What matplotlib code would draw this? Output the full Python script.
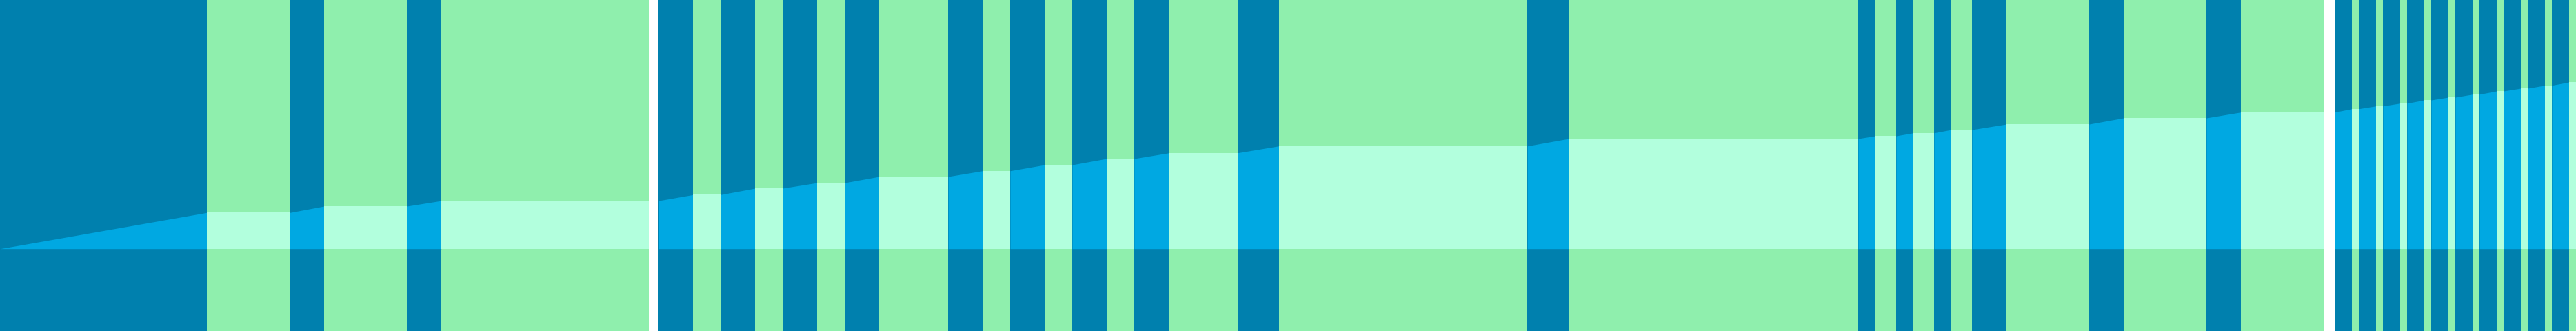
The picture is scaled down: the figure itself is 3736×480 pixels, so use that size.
import matplotlib
matplotlib.use("Agg")
import matplotlib.pyplot as plt

# ---- data ----
# Segment edges for each panel; segments alternate "active" / "idle",
# starting with "active". Level = height of the cumulative band at each edge.
panel1_edges = [0, 299.7, 420.3, 470, 590, 640.3, 940.7]
panel1_levels = [0, 52.4, 52.4, 61.7, 61.7, 69.7, 69.7]

panel2_edges = [955.5, 1005.2, 1044.8, 1095.2, 1134.7, 1185.1, 1225.3, 1275,
                1375.1, 1424.9, 1465, 1514.8, 1555, 1604.7, 1644.9, 1695.3,
                1794.8, 1854.7, 2215.2, 2275.1, 2695, 2720, 2750, 2775, 2805,
                2830, 2860, 2910, 3030, 3080, 3200, 3249.8, 3370.5]
panel2_levels = [69.7, 78.4, 78.4, 87.7, 87.7, 95.7, 95.7, 104.7, 104.7, 113,
                 113, 121.7, 121.7, 130.7, 130.7, 139, 139, 149, 149, 159.7,
                 159.7, 163.7, 163.7, 168, 168, 172.7, 172.7, 180.7, 180.7,
                 189.7, 189.7, 198, 198]

panel3_edges = [3386, 3411, 3421, 3446, 3456, 3481, 3491, 3516, 3526, 3551,
                3561, 3586, 3596, 3621, 3631, 3656, 3666, 3691, 3701, 3726, 3737]
panel3_levels = [198, 203, 203, 207, 207, 211, 211, 215.7, 215.7, 219.7, 219.7,
                 224, 224, 228.7, 228.7, 232.7, 232.7, 237, 237, 241.7, 241.7]

x_total = 3737
y_min, y_max = -119.3, 360.7

# ---- style ----
dark = {"active": "#0080AE", "idle": "#8FEFAD"}
light = {"active": "#00A8E2", "idle": "#B2FFDD"}

W, H, DPI = 3737, 480, 100
fig = plt.figure(figsize=(W / DPI, H / DPI), dpi=DPI, facecolor="white")

panels = [(panel1_edges, panel1_levels),
          (panel2_edges, panel2_levels),
          (panel3_edges, panel3_levels)]

for edges, levels in panels:
    x0, x1 = edges[0], edges[-1]
    ax = fig.add_axes([x0 / x_total, 0, (x1 - x0) / x_total, 1])
    ax.set_xlim(x0, x1)
    ax.set_ylim(y_min, y_max)
    ax.axis("off")
    for i in range(len(edges) - 1):
        kind = "active" if i % 2 == 0 else "idle"
        a, b = edges[i], edges[i + 1]
        ax.axvspan(a, b, color=dark[kind], lw=0, antialiased=False, zorder=1)
        ax.fill_between([a, b], [0, 0], [levels[i], levels[i + 1]],
                        color=light[kind], lw=0, zorder=2)

fig.savefig("out.png", dpi=DPI, facecolor="white")
